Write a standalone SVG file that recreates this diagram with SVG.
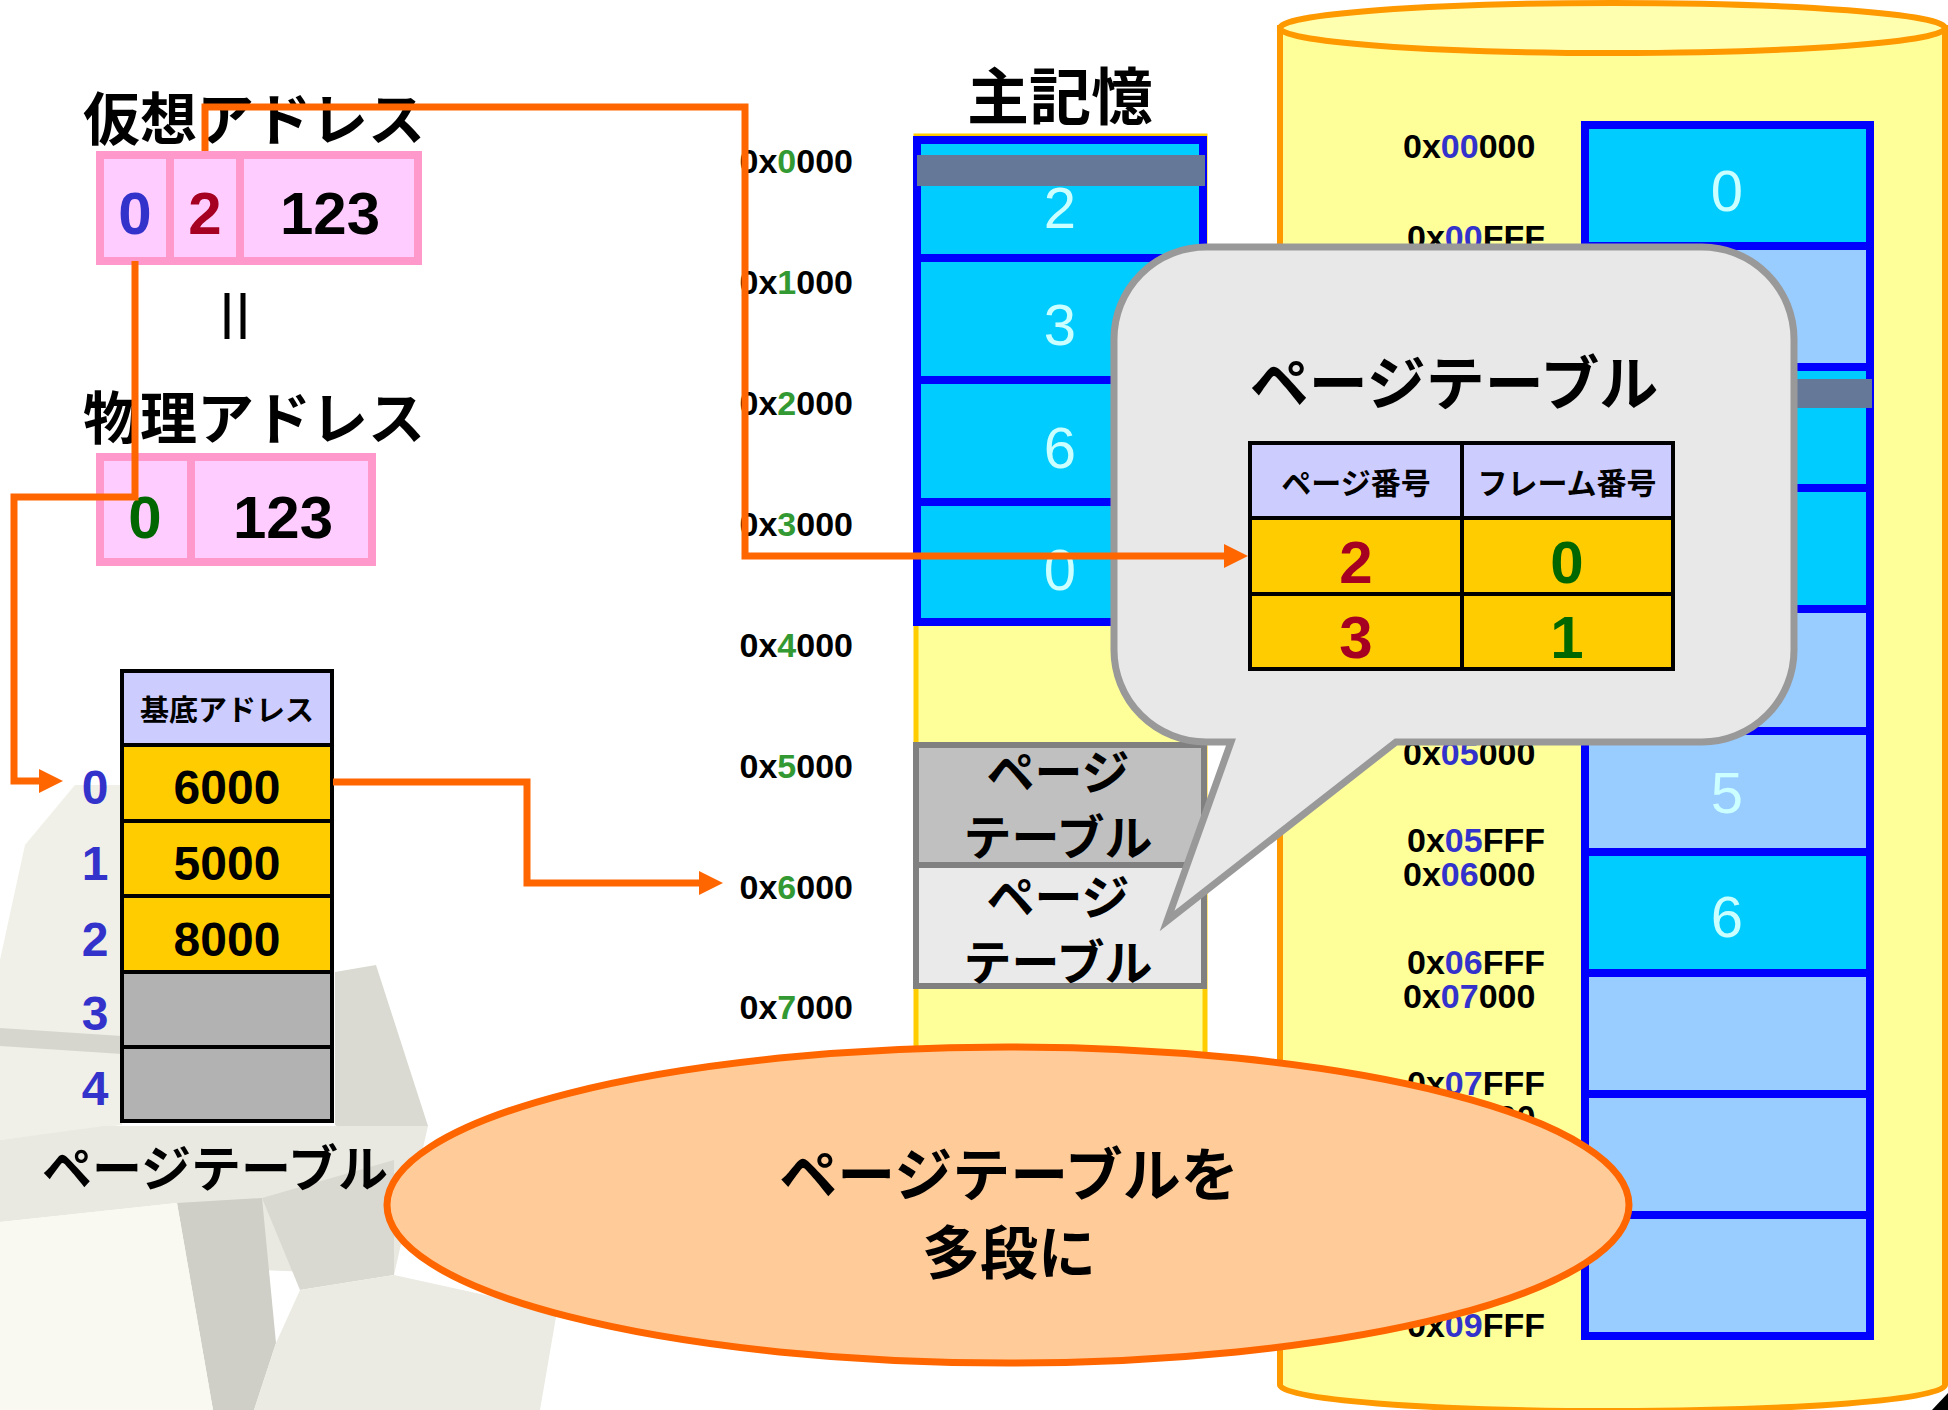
<svg xmlns="http://www.w3.org/2000/svg" width="1948" height="1410" viewBox="0 0 1948 1410">
<defs>
<style>
.jp{font-family:"Noto Sans CJK JP","Noto Sans CJK SC",sans-serif;font-weight:bold}
.num{font-family:"Liberation Sans",Arial,sans-serif;font-weight:bold}
.conn{fill:none;stroke:#FF6600;stroke-width:7}
.pink{fill:#FFCCFF;stroke:#FF99CC;stroke-width:8}
.cell{stroke:#000;stroke-width:4}
.hdr{fill:#CCCCFF}
.gold{fill:#FFCC00}
.gray{fill:#B2B2B2}
.frame{stroke:#0000FF;stroke-width:8}
.cyan{fill:#00CCFF}
.lblue{fill:#99CCFF}
.fnum{fill:#CCFFFF;font-size:58px;text-anchor:middle;font-weight:normal}
.addr{font-size:34px;fill:#000}
.g{fill:#339933}
.b{fill:#3333CC}
.bar{fill:#657897}
</style>
<marker id="ah" viewBox="0 0 24 24" refX="0" refY="12" markerWidth="24" markerHeight="24" orient="auto" markerUnits="userSpaceOnUse">
<path d="M0,0 L24,12 L0,24 Z" fill="#FF6600"/>
</marker>
</defs>
<rect x="0" y="0" width="1948" height="1410" fill="#FFFFFF"/>

<g id="background">
<polygon points="0,960 25,845 75,785 122,785 122,1125 0,1140" fill="#F0F0E8"/>
<polygon points="0,1028 122,1036 122,1054 0,1046" fill="#D6D6CE"/>
<polygon points="335,972 376,965 428,1126 400,1160 335,1125" fill="#DADAD2"/>
<polygon points="0,1140 104,1126 428,1126 394,1275 258,1270 177,1203 0,1222" fill="#E9E9E1"/>
<polygon points="177,1203 262,1198 276,1343 254,1410 213,1410" fill="#CFCFC7"/>
<polygon points="262,1198 394,1160 394,1275 300,1290" fill="#D9D9D1"/>
<polygon points="276,1343 300,1290 394,1275 557,1311 540,1410 254,1410" fill="#EBEBE3"/>
<polygon points="0,1222 177,1203 213,1410 0,1410" fill="#F9F9F1"/>
</g>

<g id="virtual-address">
<text class="jp" x="83" y="140" font-size="57">仮想アドレス</text>
<rect class="pink" x="100" y="155" width="318" height="106"/>
<line x1="170" y1="155" x2="170" y2="261" stroke="#FF99CC" stroke-width="8"/>
<line x1="240" y1="155" x2="240" y2="261" stroke="#FF99CC" stroke-width="8"/>
<text class="num" x="135" y="234" font-size="60" text-anchor="middle" fill="#3333CC">0</text>
<text class="num" x="205" y="234" font-size="60" text-anchor="middle" fill="#A50021">2</text>
<text class="num" x="330" y="234" font-size="60" text-anchor="middle">123</text>
</g>

<g id="equals">
<line x1="227" y1="293" x2="227" y2="339" stroke="#000" stroke-width="5"/>
<line x1="243" y1="293" x2="243" y2="339" stroke="#000" stroke-width="5"/>
</g>

<g id="physical-address">
<text class="jp" x="83" y="439" font-size="57">物理アドレス</text>
<rect class="pink" x="100" y="457" width="272" height="105"/>
<line x1="191" y1="457" x2="191" y2="562" stroke="#FF99CC" stroke-width="8"/>
<text class="num" x="145" y="538" font-size="60" text-anchor="middle" fill="#006600">0</text>
<text class="num" x="283" y="538" font-size="60" text-anchor="middle">123</text>
</g>

<g id="page-table-1">
<rect class="cell hdr" x="122" y="671" width="210" height="74"/>
<rect class="cell gold" x="122" y="745" width="210" height="76"/>
<rect class="cell gold" x="122" y="821" width="210" height="75"/>
<rect class="cell gold" x="122" y="896" width="210" height="76"/>
<rect class="cell gray" x="122" y="972" width="210" height="75"/>
<rect class="cell gray" x="122" y="1047" width="210" height="74"/>
<text class="jp" x="227" y="721" font-size="29" text-anchor="middle">基底アドレス</text>
<text class="num" x="227" y="804" font-size="48" text-anchor="middle">6000</text>
<text class="num" x="227" y="880" font-size="48" text-anchor="middle">5000</text>
<text class="num" x="227" y="956" font-size="48" text-anchor="middle">8000</text>
<g class="num b" font-size="48" text-anchor="middle">
<text x="95" y="804">0</text>
<text x="95" y="880">1</text>
<text x="95" y="956">2</text>
<text x="95" y="1030">3</text>
<text x="95" y="1105">4</text>
</g>
<text class="jp" x="42" y="1187" font-size="50">ページテーブル</text>
</g>

<g id="main-memory">
<text class="jp" x="1060" y="120" font-size="62" text-anchor="middle">主記憶</text>
<rect x="916" y="136" width="289" height="1170" fill="#FFFF99" stroke="#FFCC00" stroke-width="5"/>
<rect class="frame cyan" x="917" y="140" width="286" height="118"/>
<rect class="bar" x="917" y="155" width="288" height="31"/>
<rect class="frame cyan" x="917" y="258" width="286" height="122"/>
<rect class="frame cyan" x="917" y="380" width="286" height="122"/>
<rect class="frame cyan" x="917" y="502" width="286" height="120"/>
<text class="num fnum" x="1060" y="228">2</text>
<text class="num fnum" x="1060" y="345">3</text>
<text class="num fnum" x="1060" y="468">6</text>
<text class="num fnum" x="1060" y="590">0</text>
<rect x="916" y="745" width="288" height="120" fill="#C0C0C0" stroke="#808080" stroke-width="6"/>
<rect x="916" y="865" width="288" height="121" fill="#EAEAEA" stroke="#808080" stroke-width="6"/>
<g class="jp" font-size="48" text-anchor="middle">
<text x="1058" y="790">ページ</text>
<text x="1058" y="855">テーブル</text>
<text x="1058" y="915">ページ</text>
<text x="1058" y="980">テーブル</text>
</g>
<g class="num addr" text-anchor="end">
<text x="853" y="173">0x<tspan class="g">0</tspan>000</text>
<text x="853" y="294">0x<tspan class="g">1</tspan>000</text>
<text x="853" y="415">0x<tspan class="g">2</tspan>000</text>
<text x="853" y="536">0x<tspan class="g">3</tspan>000</text>
<text x="853" y="657">0x<tspan class="g">4</tspan>000</text>
<text x="853" y="778">0x<tspan class="g">5</tspan>000</text>
<text x="853" y="899">0x<tspan class="g">6</tspan>000</text>
<text x="853" y="1019">0x<tspan class="g">7</tspan>000</text>
</g>
</g>

<g id="disk">
<path d="M1280,28 V1385 A332.5,26 0 0 0 1945,1385 V28 Z" fill="#FFFF99" stroke="#FF9900" stroke-width="6"/>
<ellipse cx="1612.5" cy="28" rx="332.5" ry="25" fill="#FFFFB0" stroke="#FF9900" stroke-width="6"/>
<rect class="frame cyan" x="1585" y="125" width="285" height="121"/>
<rect class="frame lblue" x="1585" y="246" width="285" height="121"/>
<rect class="frame cyan" x="1585" y="367" width="285" height="121"/>
<rect class="bar" x="1585" y="379" width="287" height="29"/>
<rect class="frame cyan" x="1585" y="488" width="285" height="121"/>
<rect class="frame lblue" x="1585" y="609" width="285" height="122"/>
<rect class="frame lblue" x="1585" y="731" width="285" height="121"/>
<rect class="frame cyan" x="1585" y="852" width="285" height="121"/>
<rect class="frame lblue" x="1585" y="973" width="285" height="121"/>
<rect class="frame lblue" x="1585" y="1094" width="285" height="121"/>
<rect class="frame lblue" x="1585" y="1215" width="285" height="121"/>
<text class="num fnum" x="1727" y="211">0</text>
<text class="num fnum" x="1727" y="813">5</text>
<text class="num fnum" x="1727" y="937">6</text>
<g class="num addr">
<text x="1403" y="158">0x<tspan class="b">00</tspan>000</text>
<text x="1407" y="249">0x<tspan class="b">00</tspan>FFF</text>
<text x="1403" y="765">0x<tspan class="b">05</tspan>000</text>
<text x="1407" y="852">0x<tspan class="b">05</tspan>FFF</text>
<text x="1403" y="886">0x<tspan class="b">06</tspan>000</text>
<text x="1407" y="974">0x<tspan class="b">06</tspan>FFF</text>
<text x="1403" y="1008">0x<tspan class="b">07</tspan>000</text>
<text x="1407" y="1095">0x<tspan class="b">07</tspan>FFF</text>
<text x="1403" y="1129">0x<tspan class="b">08</tspan>000</text>
<text x="1407" y="1337">0x<tspan class="b">09</tspan>FFF</text>
</g>
</g>

<g id="balloon">
<path d="M1206,247 H1702 A92,92 0 0 1 1794,339 V650 A92,92 0 0 1 1702,742 H1396 L1167,921 L1231,742 H1206 A92,92 0 0 1 1114,650 V339 A92,92 0 0 1 1206,247 Z" fill="#E8E8E8" stroke="#999999" stroke-width="7"/>
<text class="jp" x="1454" y="405" font-size="59" text-anchor="middle">ページテーブル</text>
<rect class="cell hdr" x="1250" y="443" width="212" height="75"/>
<rect class="cell hdr" x="1462" y="443" width="211" height="75"/>
<rect class="cell gold" x="1250" y="518" width="212" height="76"/>
<rect class="cell gold" x="1462" y="518" width="211" height="76"/>
<rect class="cell gold" x="1250" y="594" width="212" height="75"/>
<rect class="cell gold" x="1462" y="594" width="211" height="75"/>
<text class="jp" x="1356" y="494" font-size="30" text-anchor="middle">ページ番号</text>
<text class="jp" x="1567" y="494" font-size="30" text-anchor="middle">フレーム番号</text>
<text class="num" x="1356" y="583" font-size="60" text-anchor="middle" fill="#A50021" font-weight="normal">2</text>
<text class="num" x="1567" y="583" font-size="60" text-anchor="middle" fill="#006600" font-weight="normal">0</text>
<text class="num" x="1356" y="658" font-size="60" text-anchor="middle" fill="#A50021" font-weight="normal">3</text>
<text class="num" x="1567" y="658" font-size="60" text-anchor="middle" fill="#006600" font-weight="normal">1</text>
</g>

<g id="connectors">
<path class="conn" d="M205,151 V107 H745 V556 H1224" marker-end="url(#ah)"/>
<path class="conn" d="M135,261 V497 H14 V781 H39" marker-end="url(#ah)"/>
<path class="conn" d="M333,782 H527 V883 H699" marker-end="url(#ah)"/>
</g>

<g id="note">
<ellipse cx="1008" cy="1205" rx="621" ry="158" fill="#FFCC99" stroke="#FF6600" stroke-width="7"/>
<text class="jp" x="1009" y="1196" font-size="58" text-anchor="middle">ページテーブルを</text>
<text class="jp" x="1009" y="1274" font-size="58" text-anchor="middle">多段に</text>
</g>

<polygon points="1948,1393 1948,1410 1932,1410" fill="#000"/>
</svg>
